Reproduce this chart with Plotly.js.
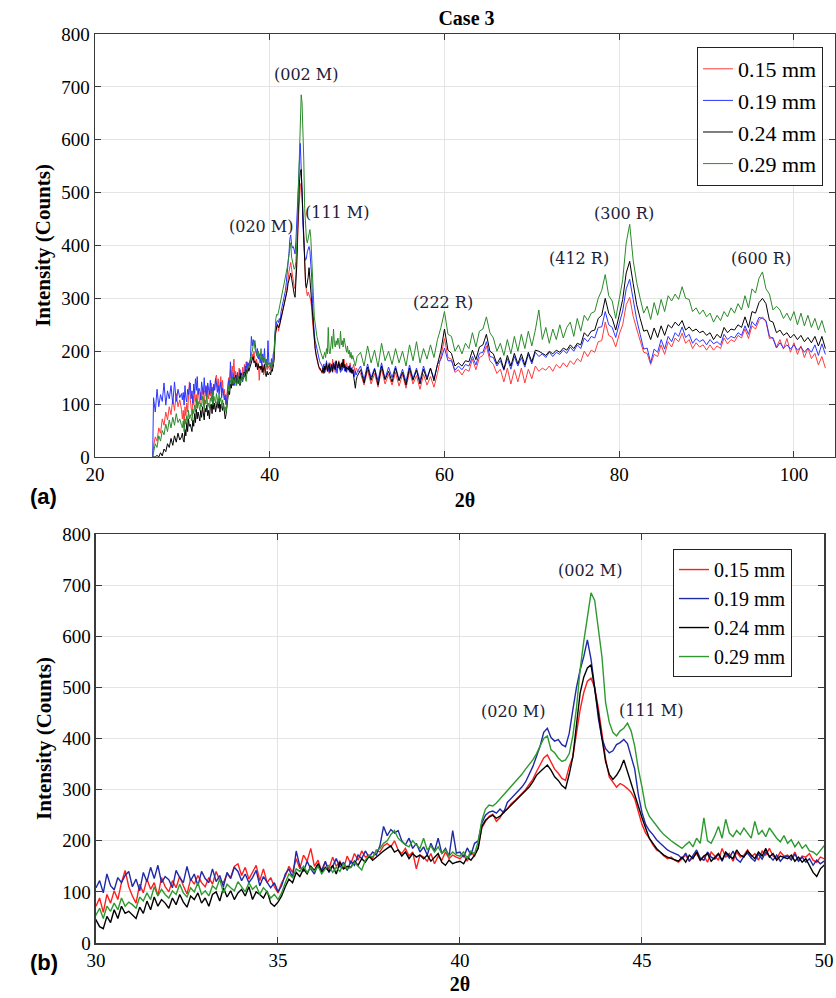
<!DOCTYPE html>
<html>
<head>
<meta charset="utf-8">
<script src="https://cdn.plot.ly/plotly-3.0.1.min.js"></script>
<style>html,body{margin:0;padding:0;background:#fff;}#chart{width:836px;height:998px;}</style>
</head>
<body>
<div id="chart"></div>
<script>
// ---- data ----
const seriesNames = ["0.15 mm", "0.19 mm", "0.24 mm", "0.29 mm"];

// 2-theta sampling, start of scan
const xA = [26.6, 26.7, 26.9, 27.1, 27.3, 27.5, 27.7, 27.9, 28.1, 28.3, 28.5, 28.7, 28.9, 29.1, 29.3, 29.5, 29.7, 29.9];
// 2-theta 30..50
const xB = [30.0,30.1,30.2,30.3,30.4,30.5,30.6,30.7,30.8,30.9,
 31.0,31.1,31.2,31.3,31.4,31.5,31.6,31.7,31.8,31.9,
 32.0,32.1,32.2,32.3,32.4,32.5,32.6,32.7,32.8,32.9,
 33.0,33.1,33.2,33.3,33.4,33.5,33.6,33.7,33.8,33.9,
 34.0,34.1,34.2,34.3,34.4,34.5,34.6,34.7,34.8,34.9,
 35.0,35.1,35.2,35.3,35.4,35.5,35.6,35.7,35.8,35.9,
 36.0,36.1,36.2,36.3,36.4,36.5,36.6,36.7,36.8,36.9,
 37.0,37.1,37.2,37.3,37.4,37.5,37.6,37.7,37.8,37.9,
 38.0,38.1,38.2,38.3,38.4,38.5,38.6,38.7,38.8,38.9,
 39.0,39.1,39.2,39.3,39.4,39.5,39.6,39.7,39.8,39.9,
 40.0,40.1,40.2,40.3,40.4,40.5,40.6,40.7,40.8,40.9,
 41.0,41.1,41.2,41.3,41.4,41.5,41.6,41.7,41.8,41.9,
 42.0,42.1,42.2,42.3,42.4,42.5,42.6,42.7,42.8,42.9,
 43.0,43.1,43.2,43.3,43.4,43.5,43.6,43.7,43.8,43.9,
 44.0,44.1,44.2,44.3,44.4,44.5,44.6,44.7,44.8,44.9,
 45.0,45.1,45.2,45.3,45.4,45.5,45.6,45.7,45.8,45.9,
 46.0,46.1,46.2,46.3,46.4,46.5,46.6,46.7,46.8,46.9,
 47.0,47.1,47.2,47.3,47.4,47.5,47.6,47.7,47.8,47.9,
 48.0,48.1,48.2,48.3,48.4,48.5,48.6,48.7,48.8,48.9,
 49.0,49.1,49.2,49.3,49.4,49.5,49.6,49.7,49.8,49.9,
 50.0];
// 2-theta 50.4..103.6
const xC = [50.4,50.8,51.2,51.6,52.0,52.4,52.8,53.2,53.6,54.0,
 54.4,54.8,55.2,55.6,56.0,56.4,56.8,57.2,57.6,58.0,
 58.4,58.8,59.2,59.6,60.0,60.4,60.8,61.2,61.6,62.0,
 62.4,62.8,63.2,63.6,64.0,64.4,64.8,65.2,65.6,66.0,
 66.4,66.8,67.2,67.6,68.0,68.4,68.8,69.2,69.6,70.0,
 70.4,70.8,71.2,71.6,72.0,72.4,72.8,73.2,73.6,74.0,
 74.4,74.8,75.2,75.6,76.0,76.4,76.8,77.2,77.6,78.0,
 78.4,78.8,79.2,79.6,80.0,80.4,80.8,81.2,81.6,82.0,
 82.4,82.8,83.2,83.6,84.0,84.4,84.8,85.2,85.6,86.0,
 86.4,86.8,87.2,87.6,88.0,88.4,88.8,89.2,89.6,90.0,
 90.4,90.8,91.2,91.6,92.0,92.4,92.8,93.2,93.6,94.0,
 94.4,94.8,95.2,95.6,96.0,96.4,96.8,97.2,97.6,98.0,
 98.4,98.8,99.2,99.6,100.0,100.4,100.8,101.2,101.6,102.0,
 102.4,102.8,103.2,103.6];

// ---- 0.15 mm (red) ----
const redA = [0,20,38,30,55,45,72,60,85,70,95,80,110,88,120,95,108,90];
const redB = [72,88,60,95,78,102,85,118,142,110,
 92,78,115,98,125,105,118,92,128,110,
 100,122,108,130,112,96,125,115,132,118,
 110,128,115,140,122,118,135,128,150,155,
 132,148,125,140,152,122,145,118,128,110,
 98,118,130,150,138,165,145,172,160,185,
 150,162,140,158,145,168,150,160,145,170,
 155,175,162,180,168,172,165,182,178,190,
 195,188,200,182,175,185,170,178,145,172,
 168,160,175,155,170,162,178,165,172,168,
 165,172,160,178,170,188,225,238,248,252,
 238,245,258,262,272,278,285,292,300,310,
 320,335,350,362,368,355,340,332,322,318,
 345,364,410,456,490,512,518,500,460,410,
 360,325,315,305,312,308,302,295,282,255,
 232,215,205,192,182,178,170,165,168,162,
 158,165,172,160,168,175,162,170,158,178,
 170,162,185,168,175,160,178,168,172,182,
 168,175,162,180,172,185,170,165,178,170,
 172,165,178,160,170,168,175,162,158,168,
 165];
const redC = [158,136,164,138,158,132,166,138,156,136,
 160,134,156,130,162,138,154,128,156,136,
 152,132,158,188,224,188,185,160,165,155,
 166,162,185,165,188,192,210,182,175,158,
 166,142,168,138,165,142,168,140,166,148,
 172,162,168,164,172,162,175,168,178,170,
 182,175,186,180,200,190,202,198,218,220,
 255,230,226,208,232,250,288,302,266,242,
 218,198,196,175,194,190,212,194,218,208,
 225,218,234,215,222,205,216,208,212,202,
 212,202,210,205,225,214,222,218,230,225,
 242,224,248,242,258,265,256,224,226,208,
 222,204,224,198,216,194,210,188,206,186,
 196,174,190,168];

// ---- 0.19 mm (blue) ----
const blueA = [0,112,85,128,95,118,105,140,98,125,110,135,100,142,105,128,112,120];
const blueB = [108,122,98,135,112,104,128,118,132,140,
 110,125,102,138,120,148,126,152,118,130,
 124,108,142,128,118,150,122,135,112,140,
 126,118,145,120,132,110,138,126,148,140,
 122,135,118,128,142,112,130,120,108,118,
 100,112,135,145,128,180,150,140,160,145,
 135,155,142,160,138,150,165,148,158,142,
 160,152,172,165,180,168,178,172,190,228,
 210,222,215,220,200,192,205,185,195,178,
 188,172,195,180,205,175,185,170,220,176,
 178,168,186,172,195,200,235,250,256,258,
 254,262,255,275,282,290,296,305,315,330,
 345,365,385,412,420,402,395,398,388,384,
 410,456,500,534,560,593,555,500,440,400,
 380,372,376,388,392,398,390,365,340,290,
 255,232,220,212,202,195,188,182,178,175,
 172,165,176,160,170,182,166,162,178,168,
 164,174,160,176,166,180,164,158,170,176,
 166,160,174,164,178,170,162,172,160,168,
 170,162,174,160,168,158,165,152,162,155,
 160];
const blueC = [172,146,176,150,168,144,178,148,170,150,
 172,146,166,142,174,148,168,144,172,150,
 168,148,175,185,206,182,182,164,172,165,
 175,172,190,174,196,198,218,190,188,172,
 182,164,186,166,190,172,188,170,194,176,
 198,190,195,188,198,190,198,194,202,196,
 208,200,212,205,225,218,228,225,245,246,
 275,250,245,226,252,276,318,336,298,260,
 232,204,206,178,204,198,222,204,228,218,
 235,228,246,226,232,215,224,218,222,212,
 222,214,218,212,232,222,228,225,235,230,
 248,232,256,248,264,262,258,228,224,206,
 216,206,212,204,212,202,208,198,206,198,
 212,192,214,194];

// ---- 0.24 mm (black) ----
const blackA = [0,0,0,3,0,8,2,15,10,25,18,35,22,40,28,45,32,38];
const blackB = [45,32,28,52,40,65,48,72,58,62,
 55,48,70,58,82,65,90,72,85,78,
 68,88,75,95,80,70,92,85,98,78,
 88,72,95,100,82,108,90,102,85,98,
 105,92,110,85,100,95,88,102,78,72,
 80,92,110,125,118,138,130,145,135,150,
 142,155,138,148,140,152,135,158,145,150,
 148,160,152,165,158,170,162,168,175,180,
 185,190,178,182,170,178,165,175,168,172,
 165,172,160,168,175,158,152,162,155,158,
 160,155,168,162,172,185,228,240,246,250,
 244,248,255,262,268,276,282,290,298,305,
 315,328,335,342,348,338,325,318,308,302,
 330,364,430,489,520,538,544,500,450,400,
 355,330,320,328,340,358,335,310,288,265,
 245,225,205,195,185,178,172,168,165,162,
 160,168,158,172,165,178,162,170,175,160,
 168,175,162,178,170,165,182,172,168,180,
 172,165,178,170,185,168,175,162,170,168,
 165,172,160,168,158,165,150,138,130,145,
 152];
const blackC = [165,140,170,145,166,136,172,146,162,142,
 168,144,160,136,168,145,164,138,166,146,
 168,144,175,202,242,202,196,172,178,172,
 182,180,202,184,208,212,232,200,195,176,
 188,166,192,172,196,176,195,174,198,180,
 202,200,196,192,200,195,202,198,206,202,
 212,205,215,212,235,228,238,240,262,268,
 300,272,262,240,268,298,348,370,328,288,
 262,238,240,222,244,226,248,230,250,244,
 255,248,258,240,246,238,242,235,238,230,
 235,222,232,225,245,235,242,240,250,245,
 265,245,275,272,292,300,290,258,255,235,
 240,230,235,225,232,222,230,218,226,216,
 228,210,228,205];

// ---- 0.29 mm (green) ----
const greenA = [0,10,25,18,40,30,50,42,62,48,70,55,75,60,82,65,72,60];
const greenB = [55,68,48,72,62,78,65,88,72,80,
 75,68,90,82,98,85,110,92,105,95,
 88,102,95,115,98,90,108,100,118,95,
 102,92,112,105,125,98,115,108,102,120,
 110,100,118,105,112,95,108,100,88,95,
 85,98,118,135,128,145,140,150,138,148,
 140,150,135,145,152,138,148,140,155,145,
 148,158,150,143,162,172,168,180,185,195,
 200,212,220,205,198,192,188,200,192,185,
 205,182,190,178,188,175,182,170,178,172,
 170,178,165,180,175,198,240,262,270,268,
 274,282,290,298,305,312,320,330,340,348,
 358,370,385,400,405,378,372,362,355,358,
 370,405,460,535,590,640,685,670,620,560,
 470,432,412,405,415,420,430,415,385,340,
 305,265,248,238,228,220,212,205,200,195,
 190,185,192,198,188,205,195,245,200,195,
 210,228,205,242,215,208,220,212,225,215,
 205,238,212,220,208,225,215,205,198,210,
 195,202,188,198,185,192,180,178,172,182,
 190];
const greenC = [198,172,210,178,202,170,215,182,200,175,
 205,178,200,172,212,182,218,178,205,185,
 212,188,222,245,275,232,228,200,212,195,
 215,205,235,208,238,242,265,235,225,200,
 215,192,222,195,228,200,232,205,238,210,
 240,278,222,245,215,242,222,250,225,245,
 255,228,262,238,268,258,272,275,300,315,
 345,305,295,262,298,335,405,440,372,330,
 300,272,285,260,292,268,298,275,305,295,
 308,298,322,300,298,275,282,270,278,265,
 272,255,268,258,275,265,282,272,290,278,
 305,282,318,310,338,350,318,308,278,285,
 278,262,272,258,275,250,272,248,268,245,
 262,240,258,235];

// peak labels
const topLabels = ["(002 M)", "(020 M)", "(111 M)", "(222 R)", "(412 R)", "(300 R)", "(600 R)"];
const topLabelX = [44.2, 39.05, 47.7, 59.8, 75.4, 80.6, 96.2];
const topLabelY = [724, 435, 463, 292, 376, 460, 376];
const botLabels = ["(002 M)", "(020 M)", "(111 M)"];
const botLabelX = [43.58, 41.48, 45.27];
const botLabelY = [728, 452, 454];

// ---- build traces ----
const xAll = xA.concat(xB, xC);
const ys = [redA.concat(redB, redC), blueA.concat(blueB, blueC), blackA.concat(blackB, blackC), greenA.concat(greenB, greenC)];
const topColors = ["#ff3b3b", "#2b35ff", "#000000", "#2a8a2a"];
const botColors = ["#ff1e1e", "#1f2aa6", "#000000", "#2e9a2e"];

const traces = [];
ys.forEach((y, i) => {
  traces.push({x: xAll, y: y, type: "scatter", mode: "lines", name: seriesNames[i],
    line: {color: topColors[i], width: 1}, xaxis: "x", yaxis: "y", legend: "legend"});
});
ys.forEach((y, i) => {
  traces.push({x: xAll, y: y, type: "scatter", mode: "lines", name: seriesNames[i],
    line: {color: botColors[i], width: 1.4}, xaxis: "x2", yaxis: "y2", legend: "legend2"});
});

const SERIF = "Liberation Serif";
function font(size, fam) { return {family: fam || SERIF, size: size, color: "#000"}; }
function axis(extra) {
  return Object.assign({
    showline: true, linecolor: "#3a3a3a", linewidth: 1.5, mirror: "allticks",
    ticks: "inside", ticklen: 6, tickcolor: "#3a3a3a", tickwidth: 1,
    showgrid: true, gridcolor: "#e4e4e4", gridwidth: 1, zeroline: false,
    tickfont: font(19)
  }, extra);
}

const annotations = [];
topLabels.forEach((t, i) => annotations.push({text: t, x: topLabelX[i], y: topLabelY[i], xref: "x", yref: "y",
  showarrow: false, font: {family: "DejaVu Serif", size: 16, color: "#1d1d3a"}}));
botLabels.forEach((t, i) => annotations.push({text: t, x: botLabelX[i], y: botLabelY[i], xref: "x2", yref: "y2",
  showarrow: false, font: {family: "DejaVu Serif", size: 16, color: "#1d1d3a"}}));
annotations.push({text: "<b>(a)</b>", xref: "paper", yref: "paper", x: -0.0912, y: 0.4917, showarrow: false,
  font: font(22, "Liberation Sans")});
annotations.push({text: "<b>(b)</b>", xref: "paper", yref: "paper", x: -0.0905, y: -0.0374, showarrow: false,
  font: font(22, "Liberation Sans")});

function legend(extra) {
  return Object.assign({xanchor: "left", yanchor: "top", bgcolor: "#fff", bordercolor: "#222", borderwidth: 1,
    tracegroupgap: 0, itemclick: false}, extra);
}

const layout = {
  width: 836, height: 998,
  margin: {l: 95, r: 1, t: 34, b: 55},
  paper_bgcolor: "#fff", plot_bgcolor: "#fff",
  title: {text: "<b>Case 3</b>", x: 0.558, xref: "container", y: 0.9815, yref: "container", yanchor: "middle",
    font: font(20)},
  xaxis: axis({domain: [0, 1], range: [20, 104.7], dtick: 20, tick0: 20, anchor: "y",
    title: {text: "<b>2θ</b>", font: font(20), standoff: 8}}),
  yaxis: axis({domain: [0.5347, 1], range: [0, 800], dtick: 100, anchor: "x",
    title: {text: "<b>Intensity (Counts)</b>", font: font(21), standoff: 5}}),
  xaxis2: axis({domain: [0.00135, 0.98514], range: [30, 50], dtick: 5, tick0: 30, anchor: "y2",
    title: {text: "<b>2θ</b>", font: font(20), standoff: 6}}),
  yaxis2: axis({domain: [0, 0.44994], range: [0, 800], dtick: 100, anchor: "x2",
    title: {text: "<b>Intensity (Counts)</b>", font: font(21), standoff: 5}}),
  legend: legend({x: 0.8135, y: 0.9857, font: font(22)}),
  legend2: legend({x: 0.7811, y: 0.4334, font: font(20)}),
  showlegend: true,
  annotations: annotations
};

Plotly.newPlot("chart", traces, layout, {displayModeBar: false, staticPlot: true});
</script>
</body>
</html>
